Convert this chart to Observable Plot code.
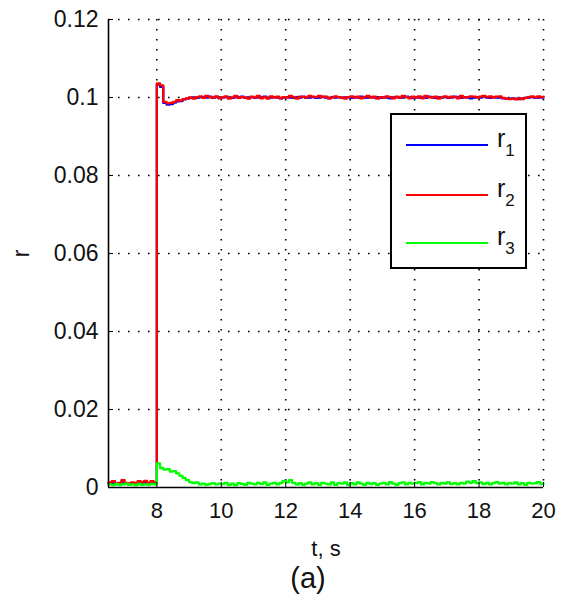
<!DOCTYPE html>
<html>
<head>
<meta charset="utf-8">
<script src="https://cdn.jsdelivr.net/npm/d3@7"></script>
<script src="https://cdn.jsdelivr.net/npm/@observablehq/plot@0.6"></script>
<style>
  html, body { margin: 0; padding: 0; background: #fff; }
  #wrap { position: relative; width: 563px; height: 605px; font-family: "Liberation Sans", Arial, sans-serif; }
  #legend { position: absolute; left: 390px; top: 113px; width: 133px; height: 152px; border: 2px solid #000; background: #fff; }
  .row { position: absolute; left: 14px; height: 24px; }
  .row svg { position: absolute; left: 0; top: 6px; }
  .row span { position: absolute; left: 91px; top: -13px; font-size: 25px; color: #111; white-space: nowrap; }
  .row sub { font-size: 17px; vertical-align: -9px; }
  #caption { position: absolute; left: 0; width: 616px; top: 562px; text-align: center; font-size: 29px; color: #111; }
</style>
</head>
<body>
<div id="wrap">
  <div id="chart"></div>
  <div id="legend"></div>
  <div id="caption">(a)</div>
</div>
<script>
// Sampling of the recorded signals: start time and step, seconds
const t0 = 6.5;
const dt = 0.1;

// r1 (blue)
const r1 = [
  0.0010,0.0012,0.0009,0.0011,0.0013,0.0010,0.0009,0.0011,0.0010,0.0012,0.0011,0.0013,0.0010,0.0012,0.0011,
  0.1033,0.1027,0.0986,0.0982,0.0983,0.0987,0.0990,0.0991,0.0995,0.0997,
  0.0999,0.1000,0.0999,0.1001,0.1001,0.1000,0.1002,0.0999,0.1001,0.1000,
  0.1000,0.1001,0.1000,0.0999,0.1001,0.1000,0.1002,0.0999,0.1000,0.1001,
  0.0999,0.1001,0.1000,0.1002,0.0999,0.1000,0.1001,0.1000,0.0998,0.1000,
  0.1001,0.1000,0.0999,0.1001,0.1000,0.1002,0.0999,0.1000,0.1001,0.0999,
  0.1000,0.1002,0.1000,0.0998,0.1001,0.1000,0.1001,0.0999,0.1000,0.1001,
  0.0999,0.1001,0.1000,0.1002,0.0999,0.1000,0.1001,0.1000,0.1001,0.0999,
  0.1001,0.1000,0.0998,0.1000,0.1001,0.0999,0.1000,0.1002,0.1000,0.0999,
  0.1001,0.1000,0.1000,0.0999,0.1002,0.1001,0.0999,0.1000,0.1000,0.1001,
  0.0999,0.1000,0.1002,0.1000,0.0999,0.1001,0.1000,0.0998,0.1000,0.1001,
  0.1000,0.1002,0.1000,0.0999,0.1001,0.1000,0.1000,0.0998,0.0997,0.0997,
  0.0998,0.0997,0.0996,0.0998,0.0999,0.1000,0.1001,0.0999,0.1000,0.1000,
  0.1001
];

// r2 (red)
const r2 = [
  0.0013,0.0016,0.0011,0.0012,0.0019,0.0012,0.0010,0.0013,0.0011,0.0016,0.0014,0.0017,0.0012,0.0016,0.0013,
  0.1036,0.1031,0.0989,0.0985,0.0986,0.0989,0.0993,0.0992,0.0996,0.0998,
  0.1000,0.0997,0.1001,0.1003,0.0999,0.1004,0.1001,0.1000,0.1003,0.0998,
  0.1001,0.1003,0.0997,0.1000,0.1004,0.0999,0.1001,0.1000,0.0997,0.1002,
  0.1000,0.1004,0.0998,0.1001,0.0997,0.1003,0.1000,0.1002,0.0998,0.1001,
  0.1000,0.1004,0.1001,0.0997,0.1002,0.1001,0.1000,0.1004,0.1002,0.1001,
  0.1004,0.1001,0.1002,0.0998,0.1000,0.1003,0.1001,0.1000,0.0997,0.1001,
  0.1003,0.1000,0.1002,0.0998,0.1001,0.1004,0.1000,0.1002,0.0997,0.1001,
  0.1000,0.1003,0.1001,0.0998,0.1002,0.1000,0.1004,0.1001,0.0998,0.1002,
  0.1000,0.1003,0.0998,0.1004,0.1001,0.1000,0.1002,0.0997,0.1001,0.1003,
  0.1000,0.1002,0.1001,0.0998,0.1004,0.1000,0.1001,0.1003,0.1002,0.1000,
  0.1002,0.1004,0.1001,0.1003,0.1000,0.1002,0.1003,0.0999,0.0997,0.0996,
  0.0997,0.0995,0.0998,0.0996,0.0999,0.1001,0.1003,0.1000,0.1003,0.1001,
  0.1002
];

// r3 (green)
const r3 = [
  0.0008,0.0006,0.0009,0.0007,0.0008,0.0010,0.0007,0.0008,0.0006,0.0009,0.0007,0.0008,0.0007,0.0009,0.0008,
  0.0062,0.0050,0.0046,0.0047,0.0041,0.0042,0.0036,0.0030,0.0024,0.0019,
  0.0014,0.0011,0.0013,0.0008,0.0010,0.0007,0.0009,0.0011,0.0008,0.0010,
  0.0009,0.0012,0.0007,0.0010,0.0006,0.0011,0.0009,0.0007,0.0012,0.0010,
  0.0008,0.0012,0.0009,0.0013,0.0007,0.0010,0.0012,0.0008,0.0011,0.0017,
  0.0013,0.0019,0.0012,0.0008,0.0011,0.0007,0.0010,0.0013,0.0008,0.0011,
  0.0007,0.0012,0.0010,0.0008,0.0013,0.0007,0.0011,0.0010,0.0013,0.0007,
  0.0011,0.0008,0.0013,0.0010,0.0007,0.0012,0.0009,0.0011,0.0007,0.0010,
  0.0012,0.0008,0.0014,0.0010,0.0007,0.0011,0.0013,0.0008,0.0012,0.0010,
  0.0011,0.0014,0.0008,0.0012,0.0010,0.0014,0.0011,0.0008,0.0012,0.0010,
  0.0013,0.0009,0.0011,0.0008,0.0012,0.0010,0.0015,0.0012,0.0016,0.0011,
  0.0013,0.0009,0.0012,0.0008,0.0011,0.0014,0.0010,0.0012,0.0008,0.0011,
  0.0010,0.0013,0.0008,0.0011,0.0007,0.0012,0.0010,0.0011,0.0014,0.0009,
  0.0011
];

const seriesNames = ["r1", "r2", "r3"];
const seriesColors = ["#0000ff", "#ff0000", "#00ff00"];

const xDomain = [6.5, 20];
const yDomain = [0, 0.12];
const xTicks = [8, 10, 12, 14, 16, 18, 20];
const yTicks = [0, 0.02, 0.04, 0.06, 0.08, 0.1, 0.12];
const yTickLabels = ["0", "0.02", "0.04", "0.06", "0.08", "0.1", "0.12"];

const time = (d, i) => t0 + i * dt;
const lineOpts = (color) => ({x: time, y: (d) => d, stroke: color, strokeWidth: 2.3, curve: "step-after"});

const chart = Plot.plot({
  width: 563,
  height: 560,
  marginLeft: 108,
  marginRight: 20,
  marginTop: 19,
  marginBottom: 73,
  style: {fontFamily: "'Liberation Sans', Arial, sans-serif", fontSize: "23px", color: "#111", background: "#fff"},
  x: {domain: xDomain},
  y: {domain: yDomain},
  marks: [
    Plot.gridX(xTicks, {stroke: "#000", strokeOpacity: 1, strokeWidth: 1.6, strokeDasharray: "1.6,8.4"}),
    Plot.gridY(yTicks.slice(1), {stroke: "#000", strokeOpacity: 1, strokeWidth: 1.6, strokeDasharray: "1.6,8.4"}),
    Plot.line(r1, lineOpts(seriesColors[0])),
    Plot.line(r2, lineOpts(seriesColors[1])),
    Plot.line(r3, lineOpts(seriesColors[2])),
    Plot.axisX(xTicks, {tickSize: -5, text: null, stroke: "#000"}),
    Plot.axisY(yTicks, {tickSize: -5, text: null, stroke: "#000"}),
    Plot.axisX(xTicks, {tickSize: 0, tickPadding: 15, label: "t, s", labelAnchor: "center", labelArrow: "none", labelOffset: 68, fontSize: 22, dx: 0}),
    Plot.axisY(yTicks, {tickSize: 0, tickPadding: 10, tickFormat: (d, i) => yTickLabels[i], label: "r", labelAnchor: "center", labelArrow: "none", labelOffset: 96, fontSize: 23}),
    Plot.ruleX([xDomain[0]], {stroke: "#000", strokeWidth: 1.6}),
    Plot.ruleY([yDomain[0]], {stroke: "#000", strokeWidth: 1.6})
  ]
});
document.getElementById("chart").appendChild(chart);

// Legend: one row per series with its line sample
const legend = document.getElementById("legend");
const rowTops = [22, 72, 120];
seriesNames.forEach((name, i) => {
  const row = document.createElement("div");
  row.className = "row";
  row.style.top = rowTops[i] + "px";
  row.innerHTML =
    `<svg width="82" height="4"><line x1="0" x2="82" y1="2" y2="2" stroke="${seriesColors[i]}" stroke-width="2"/></svg>` +
    `<span>${name[0]}<sub>${name.slice(1)}</sub></span>`;
  legend.appendChild(row);
});
</script>
</body>
</html>
